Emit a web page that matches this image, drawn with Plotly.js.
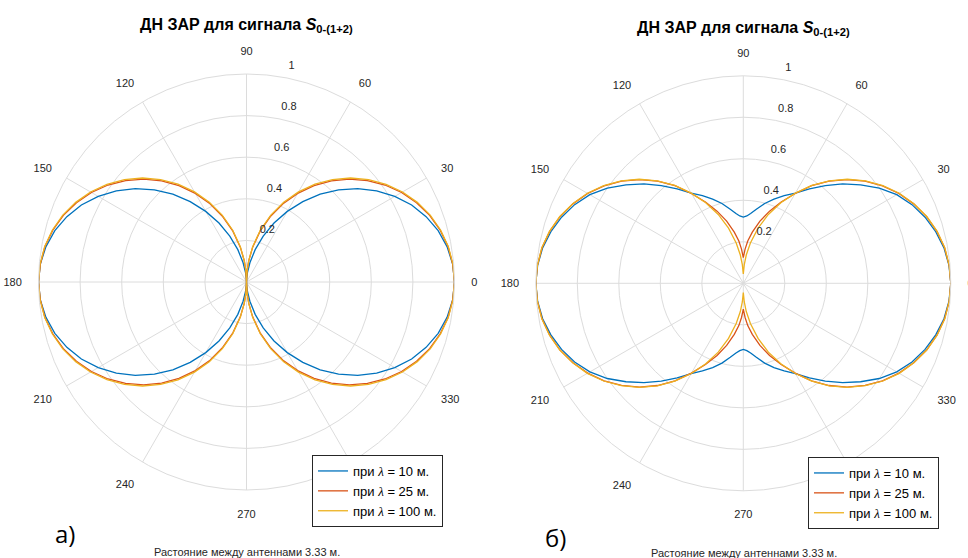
<!DOCTYPE html>
<html>
<head>
<meta charset="utf-8">
<script src="https://cdn.plot.ly/plotly-3.0.1.min.js"></script>
<style>html,body{margin:0;padding:0;background:#fff;}#chart{width:968px;height:558px;}</style>
</head>
<body>
<div id="chart"></div>
<script>
const theta = [0,5,10,15,20,25,30,35,40,45,50,55,60,65,70,75,80,84,87,90,
  93,96,100,105,110,115,120,125,130,135,140,145,150,155,160,165,170,175,180,
  185,190,195,200,205,210,215,220,225,230,235,240,245,250,255,260,264,267,270,
  273,276,280,285,290,295,300,305,310,315,320,325,330,335,340,345,350,355,360];

// Plot а)
const rA10 = [1,0.995,0.979,0.954,0.919,0.876,0.823,0.764,0.698,0.626,0.551,0.472,0.392,0.313,0.235,0.161,0.094,0.047,0.019,0,
  0.019,0.047,0.094,0.161,0.235,0.313,0.392,0.472,0.551,0.626,0.698,0.764,0.823,0.876,0.919,0.954,0.979,0.995,1,
  0.995,0.979,0.954,0.919,0.876,0.823,0.764,0.698,0.626,0.551,0.472,0.392,0.313,0.235,0.161,0.094,0.047,0.019,0,
  0.019,0.047,0.094,0.161,0.235,0.313,0.392,0.472,0.551,0.626,0.698,0.764,0.823,0.876,0.919,0.954,0.979,0.995,1];
const rA25 = [1,0.995,0.984,0.964,0.937,0.902,0.861,0.813,0.759,0.699,0.635,0.566,0.492,0.415,0.335,0.253,0.169,0.102,0.051,0,
  0.051,0.102,0.169,0.253,0.335,0.415,0.492,0.566,0.635,0.699,0.759,0.813,0.861,0.902,0.937,0.964,0.984,0.995,1,
  0.995,0.984,0.964,0.937,0.902,0.861,0.813,0.759,0.699,0.635,0.566,0.492,0.415,0.335,0.253,0.169,0.102,0.051,0,
  0.051,0.102,0.169,0.253,0.335,0.415,0.492,0.566,0.635,0.699,0.759,0.813,0.861,0.902,0.937,0.964,0.984,0.995,1];
const rA100 = [1,0.996,0.985,0.966,0.94,0.906,0.866,0.819,0.766,0.707,0.643,0.574,0.5,0.423,0.342,0.259,0.174,0.105,0.052,0,
  0.052,0.105,0.174,0.259,0.342,0.423,0.5,0.574,0.643,0.707,0.766,0.819,0.866,0.906,0.94,0.966,0.985,0.996,1,
  0.996,0.985,0.966,0.94,0.906,0.866,0.819,0.766,0.707,0.643,0.574,0.5,0.423,0.342,0.259,0.174,0.105,0.052,0,
  0.052,0.105,0.174,0.259,0.342,0.423,0.5,0.574,0.643,0.707,0.766,0.819,0.866,0.906,0.94,0.966,0.985,0.996,1];

// Plot б)
const rB10 = [1,0.995,0.982,0.96,0.932,0.897,0.854,0.8,0.738,0.677,0.615,0.556,0.502,0.466,0.432,0.398,0.362,0.338,0.325,0.319,
  0.325,0.338,0.362,0.398,0.432,0.466,0.502,0.556,0.615,0.677,0.738,0.8,0.854,0.897,0.932,0.96,0.982,0.995,1,
  0.995,0.982,0.96,0.932,0.897,0.854,0.8,0.738,0.677,0.615,0.556,0.502,0.466,0.432,0.398,0.362,0.338,0.325,0.319,
  0.325,0.338,0.362,0.398,0.432,0.466,0.502,0.556,0.615,0.677,0.738,0.8,0.854,0.897,0.932,0.96,0.982,0.995,1];
const rB25 = [1,0.996,0.985,0.966,0.94,0.906,0.866,0.819,0.766,0.707,0.643,0.574,0.5,0.432,0.37,0.31,0.25,0.205,0.165,0.124,
  0.165,0.205,0.25,0.31,0.37,0.432,0.5,0.574,0.643,0.707,0.766,0.819,0.866,0.906,0.94,0.966,0.985,0.996,1,
  0.996,0.985,0.966,0.94,0.906,0.866,0.819,0.766,0.707,0.643,0.574,0.5,0.432,0.37,0.31,0.25,0.205,0.165,0.124,
  0.165,0.205,0.25,0.31,0.37,0.432,0.5,0.574,0.643,0.707,0.766,0.819,0.866,0.906,0.94,0.966,0.985,0.996,1];
const rB100 = [1,0.996,0.986,0.967,0.941,0.907,0.868,0.821,0.768,0.709,0.645,0.576,0.502,0.428,0.353,0.275,0.197,0.137,0.09,0.045,
  0.09,0.137,0.197,0.275,0.353,0.428,0.502,0.576,0.645,0.709,0.768,0.821,0.868,0.907,0.941,0.967,0.986,0.996,1,
  0.996,0.986,0.967,0.941,0.907,0.868,0.821,0.768,0.709,0.645,0.576,0.502,0.428,0.353,0.275,0.197,0.137,0.09,0.045,
  0.09,0.137,0.197,0.275,0.353,0.428,0.502,0.576,0.645,0.709,0.768,0.821,0.868,0.907,0.941,0.967,0.986,0.996,1];

const LAM = '<span style="font-family:Liberation Serif,DejaVu Serif,serif;font-style:italic">λ</span>';
const seriesNames = ['при ' + LAM + ' = 10 м.', 'при ' + LAM + ' = 25 м.', 'при ' + LAM + ' = 100 м.'];
const seriesColors = ['#0072BD', '#D95319', '#EDB120'];
const angTicks = [0,30,60,90,120,150,180,210,240,270,300,330];
const angTickText = ['0','30','60','90','120','150','180','210','240','270','300','330'];
const radTicks = [0.2,0.4,0.6,0.8,1];
const radTickText = ['0.2','0.4','0.6','0.8','1'];
const titleText = '<b>ДН ЗАР для сигнала <i>S</i><sub>0-(1+2)</sub></b>';
const noteText = 'Растояние между антеннами 3.33 м.';

const FONT = 'Liberation Sans, Arial, sans-serif';
const GRID = '#dcdcdc';
// two blank lines under each radial label lift it above its circle, as in the reference
const RAD_LIFT = '<br>&#160;<br>&#160;';

function mk(r, i, sub, leg) {
  return {
    type: 'scatterpolar', mode: 'lines', r: r, theta: theta,
    name: seriesNames[i], subplot: sub, legend: leg,
    line: {color: seriesColors[i], width: 1.3, shape: 'linear'},
    hoverinfo: 'skip'
  };
}

const data = [
  mk(rA10,0,'polar','legend'), mk(rA25,1,'polar','legend'), mk(rA100,2,'polar','legend'),
  mk(rB10,0,'polar2','legend2'), mk(rB25,1,'polar2','legend2'), mk(rB100,2,'polar2','legend2')
];

function polarCfg(xd, yd) {
  return {
    domain: {x: xd, y: yd},
    bgcolor: '#fff',
    angularaxis: {
      rotation: 0, direction: 'counterclockwise',
      tickmode: 'array', tickvals: angTicks, ticktext: angTickText,
      showgrid: true, gridcolor: GRID, gridwidth: 1,
      showline: true, linecolor: GRID, linewidth: 1,
      ticks: 'outside', ticklen: 14, tickcolor: 'rgba(0,0,0,0)',
      tickfont: {family: FONT, size: 11, color: '#262626'}
    },
    radialaxis: {
      range: [0, 1], angle: 80, tickangle: 80,
      tickmode: 'array', tickvals: radTicks, ticktext: radTickText.map(t => t + RAD_LIFT),
      showgrid: true, gridcolor: GRID, gridwidth: 1,
      showline: false, ticks: '',
      tickfont: {family: FONT, size: 11, color: '#262626'}
    }
  };
}

const legendCfg = (x, y) => ({
  x: x, y: y, xanchor: 'left', yanchor: 'top',
  bgcolor: '#fff', bordercolor: '#262626', borderwidth: 1,
  font: {family: FONT, size: 13, color: '#000'},
  tracegroupgap: 0, itemwidth: 30
});

const layout = {
  width: 968, height: 558,
  margin: {l: 0, r: 0, t: 0, b: 0},
  paper_bgcolor: '#fff',
  showlegend: true,
  polar: polarCfg([38.5/968, 454.5/968], [1-490/558, 1-74/558]),
  polar2: polarCfg([535.8/968, 950.8/968], [1-490.8/558, 1-75.8/558]),
  legend: legendCfg(312/968, 1-455/558),
  legend2: legendCfg(808/968, 1-457/558),
  annotations: [
    {text: titleText, x: 246.5/968, y: 1-25/558, xref: 'paper', yref: 'paper', xanchor: 'center', yanchor: 'middle', showarrow: false, font: {family: FONT, size: 16, color: '#000'}},
    {text: titleText, x: 743/968, y: 1-28/558, xref: 'paper', yref: 'paper', xanchor: 'center', yanchor: 'middle', showarrow: false, font: {family: FONT, size: 16, color: '#000'}},
    {text: noteText, x: 247/968, y: 1-551.5/558, xref: 'paper', yref: 'paper', xanchor: 'center', yanchor: 'middle', showarrow: false, font: {family: FONT, size: 11, color: '#262626'}},
    {text: noteText, x: 743.5/968, y: 1-553/558, xref: 'paper', yref: 'paper', xanchor: 'center', yanchor: 'middle', showarrow: false, font: {family: FONT, size: 11, color: '#262626'}},
    {text: 'а)', x: 65/968, y: 1-533/558, xref: 'paper', yref: 'paper', xanchor: 'center', yanchor: 'middle', showarrow: false, font: {family: 'Open Sans, sans-serif', size: 24, color: '#000'}},
    {text: 'б)', x: 555/968, y: 1-537/558, xref: 'paper', yref: 'paper', xanchor: 'center', yanchor: 'middle', showarrow: false, font: {family: 'Open Sans, sans-serif', size: 24, color: '#000'}}
  ]
};

Plotly.newPlot('chart', data, layout, {staticPlot: true, displayModeBar: false});
</script>
</body>
</html>
